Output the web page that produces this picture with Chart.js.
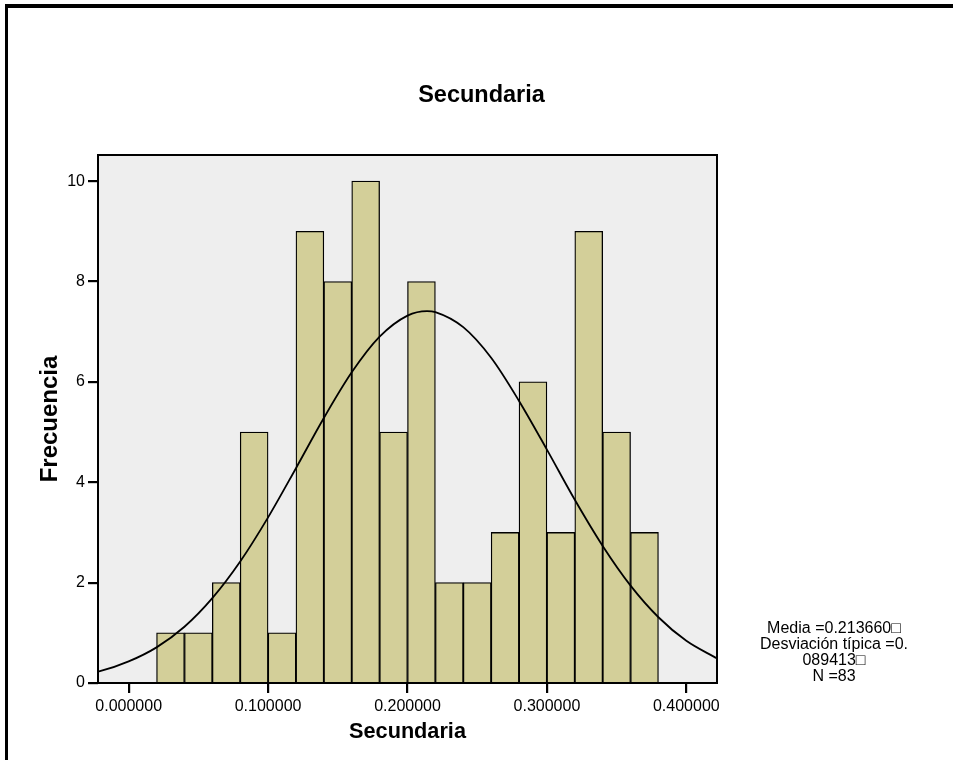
<!DOCTYPE html>
<html>
<head>
<meta charset="utf-8">
<script src="https://cdn.jsdelivr.net/npm/chart.js@4"></script>
<style>
html, body { margin: 0; padding: 0; background: #fff; }
canvas { display: block; }
</style>
</head>
<body>
<canvas id="histChart" width="953" height="760"></canvas>
<script>
// histogram bins (mid points, width 0.02) and frequencies
var binMids = [0.03, 0.05, 0.07, 0.09, 0.11, 0.13, 0.15, 0.17, 0.19, 0.21, 0.23, 0.25, 0.27, 0.29, 0.31, 0.33, 0.35, 0.37];
var counts = [1, 1, 2, 5, 1, 9, 8, 10, 5, 8, 2, 2, 3, 6, 3, 9, 5, 3];

// normal curve
var curveX = [-0.022, -0.02, 0, 0.02, 0.04, 0.06, 0.08, 0.10, 0.12, 0.14, 0.16, 0.18, 0.20, 0.214, 0.22, 0.24, 0.26, 0.28, 0.30, 0.32, 0.34, 0.36, 0.38, 0.40, 0.42, 0.422];
var curveY = [0.23, 0.24, 0.43, 0.71, 1.12, 1.69, 2.42, 3.30, 4.28, 5.28, 6.19, 6.90, 7.32, 7.41, 7.39, 7.09, 6.48, 5.62, 4.65, 3.65, 2.73, 1.94, 1.31, 0.84, 0.52, 0.49];

var xTicks = [0, 0.1, 0.2, 0.3, 0.4];
var yTicks = [0, 2, 4, 6, 8, 10];

var chartTitle = 'Secundaria';
var statsLines = ['Media =0.213660\u25A1', 'Desviaci\u00f3n t\u00edpica =0.', '089413\u25A1', 'N =83'];

var fontFam = "'Liberation Sans', Arial, sans-serif";

var framePlugin = {
    id: 'frame',
    beforeDraw: function(chart) {
        var c = chart.ctx, a = chart.chartArea;
        c.save();
        c.fillStyle = '#ffffff';
        c.fillRect(0, 0, chart.width, chart.height);
        c.fillStyle = '#000000';
        c.fillRect(5, 4, chart.width - 5, 4);
        c.fillRect(5, 4, 3, chart.height - 4);
        c.fillStyle = '#eeeeee';
        c.fillRect(a.left, a.top, a.right - a.left, a.bottom - a.top);
        c.restore();
    },
    afterDatasetsDraw: function(chart) {
        var c = chart.ctx, a = chart.chartArea;
        c.save();
        c.strokeStyle = '#000000';
        c.lineWidth = 2;
        c.strokeRect(a.left, a.top, a.right - a.left, a.bottom - a.top);
        c.restore();
    },
    afterDraw: function(chart) {
        var c = chart.ctx;
        c.save();
        c.fillStyle = '#000000';
        c.textAlign = 'center';
        c.font = 'bold 23.5px ' + fontFam;
        c.textBaseline = 'alphabetic';
        c.fillText(chartTitle, 481.5, 102);
        c.font = '16px ' + fontFam;
        c.textBaseline = 'middle';
        for (var i = 0; i < statsLines.length; i++) {
            c.fillText(statsLines[i], 834, 629 + i * 16);
        }
        c.restore();
    }
};

var ctx = document.getElementById('histChart').getContext('2d');
var myChart = new Chart(ctx, {
    type: 'bar',
    data: {
        datasets: [{
            type: 'line',
            data: curveX.map(function(x, i) { return { x: x, y: curveY[i] }; }),
            borderColor: '#000000',
            borderWidth: 1.8,
            pointRadius: 0,
            fill: false,
            cubicInterpolationMode: 'monotone',
            order: 1
        }, {
            type: 'bar',
            data: binMids.map(function(x, i) { return { x: x, y: counts[i] }; }),
            backgroundColor: '#d3cf99',
            borderColor: '#000000',
            borderWidth: 1.3,
            barPercentage: 1,
            categoryPercentage: 1,
            order: 2
        }]
    },
    options: {
        responsive: false,
        maintainAspectRatio: false,
        animation: false,
        layout: { padding: { left: 0, right: 236, top: 155, bottom: 0 } },
        plugins: {
            legend: { display: false },
            tooltip: { enabled: false },
            title: { display: false }
        },
        scales: {
            x: {
                type: 'linear',
                min: -0.022,
                max: 0.422,
                offset: false,
                afterBuildTicks: function(scale) {
                    scale.ticks = xTicks.map(function(v) { return { value: v }; });
                },
                afterFit: function(scale) { scale.height = 77; },
                grid: { offset: false, drawOnChartArea: false, drawTicks: true, tickLength: 10, color: '#000000', lineWidth: 2.2 },
                border: { display: false },
                ticks: {
                    color: '#000000',
                    padding: 4,
                    maxRotation: 0,
                    font: { family: fontFam, size: 16 },
                    callback: function(v) { return Number(v).toFixed(6); }
                },
                title: {
                    display: true,
                    text: 'Secundaria',
                    color: '#000000',
                    font: { family: fontFam, size: 21.7, weight: 'bold' },
                    padding: { top: 0, bottom: 15 }
                }
            },
            y: {
                min: 0,
                max: 10.52,
                afterBuildTicks: function(scale) {
                    scale.ticks = yTicks.map(function(v) { return { value: v }; });
                },
                afterFit: function(scale) { scale.width = 98; },
                grid: { drawOnChartArea: false, drawTicks: true, tickLength: 10, color: '#000000', lineWidth: 2.2 },
                border: { display: false },
                ticks: {
                    color: '#000000',
                    padding: 3,
                    font: { family: fontFam, size: 16 }
                },
                title: {
                    display: true,
                    text: 'Frecuencia',
                    color: '#000000',
                    font: { family: fontFam, size: 24, weight: 'bold' },
                    padding: { top: 36, bottom: 0 }
                }
            }
        }
    },
    plugins: [framePlugin]
});
</script>
</body>
</html>
